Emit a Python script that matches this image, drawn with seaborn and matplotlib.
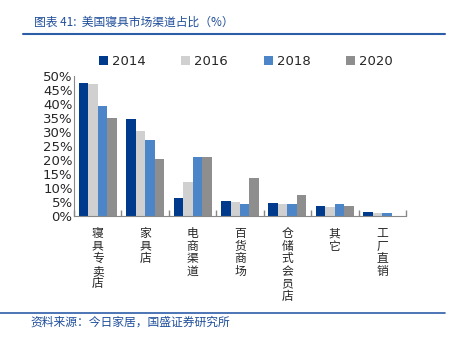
import matplotlib
matplotlib.use("Agg")
import matplotlib.pyplot as plt
import seaborn as sns
import pandas as pd
from matplotlib.lines import Line2D
from matplotlib.ticker import FixedLocator

categories = ["寝具专卖店", "家具店", "电商渠道", "百货商场", "仓储式会员店", "其它", "工厂直销"]
years = ["2014", "2016", "2018", "2020"]
v2014 = [47.6, 34.5, 6.5, 5.5, 4.5, 3.6, 1.4]
v2016 = [47.3, 30.4, 12.3, 5.1, 4.2, 3.2, 1.1]
v2018 = [39.3, 27.3, 21.2, 4.2, 4.2, 4.2, 1.1]
v2020 = [35.1, 20.5, 21.0, 13.6, 7.5, 3.6, 0.0]
yticks = [0, 5, 10, 15, 20, 25, 30, 35, 40, 45, 50]
colors = ["#003A8C", "#D0D0D0", "#4D86C8", "#8E8E8E"]

rows = []
for y, vals in zip(years, [v2014, v2016, v2018, v2020]):
    for c, v in zip(categories, vals):
        rows.append({"cat": c, "year": y, "val": v})
df = pd.DataFrame(rows)

sns.set_theme(style="white")
plt.rcParams['font.family'] = ['Noto Sans CJK SC', 'DejaVu Sans']

fig = plt.figure(figsize=(4.52, 3.39), dpi=100)
ax = fig.add_axes([74/452, 1-216/339, (406-74)/452, (216-76)/339])
sns.barplot(data=df, x="cat", y="val", hue="year", palette=colors,
            order=categories, hue_order=years, width=0.8, ax=ax,
            saturation=1, legend=True, linewidth=0, edgecolor="none")
ax.set_ylim(0, 50)
ax.set_xlim(-0.5, len(categories) - 0.5)
ax.set_yticks(yticks)
ax.set_yticklabels([f"{t}%" for t in yticks], fontsize=9.5, family=['DejaVu Sans'])
ax.set_xticks(range(len(categories)))
ax.set_xticklabels(["\n".join(c) for c in categories], fontsize=8.5, linespacing=0.95,
                   va="top")
ax.tick_params(axis="x", length=0, pad=8)
ax.tick_params(axis="y", length=0, pad=1)
ax.xaxis.set_minor_locator(FixedLocator([i + 0.5 for i in range(-1, len(categories))]))
ax.tick_params(axis="x", which="minor", length=4, color="#888888", direction="in", bottom=True)
for s in ["top", "right"]:
    ax.spines[s].set_visible(False)
ax.spines["left"].set_color("#888888")
ax.spines["bottom"].set_color("#888888")
ax.spines["left"].set_linewidth(0.8)
ax.spines["bottom"].set_linewidth(0.8)
ax.set_xlabel("")
ax.set_ylabel("")
ax.grid(False)

handles, labels = ax.get_legend_handles_labels()
ax.legend(handles, labels, loc="lower left", bbox_to_anchor=(0.05, 1.0), ncol=4,
          frameon=False, handlelength=0.7, handleheight=0.7,
          handletextpad=0.3, columnspacing=2.7, borderaxespad=0.2,
          prop={'family': ['DejaVu Sans'], 'size': 9.5})

fig.text(34/452, 1-22/339, "图表 41:  美国寝具市场渠道占比（%）", fontsize=8.5,
         color="#1F4E9A", va="center", ha="left")
fig.add_artist(Line2D([23/452, 445/452], [1-34/339, 1-34/339], color="#2E5DA8", lw=1.5))
fig.add_artist(Line2D([0/452, 445/452], [1-313/339, 1-313/339], color="#2E5DA8", lw=1.2))
fig.text(30/452, 1-322/339, "资料来源：今日家居，国盛证券研究所", fontsize=8.5,
         color="#1F4E9A", va="center", ha="left")

fig.savefig("out.png", dpi=100)
